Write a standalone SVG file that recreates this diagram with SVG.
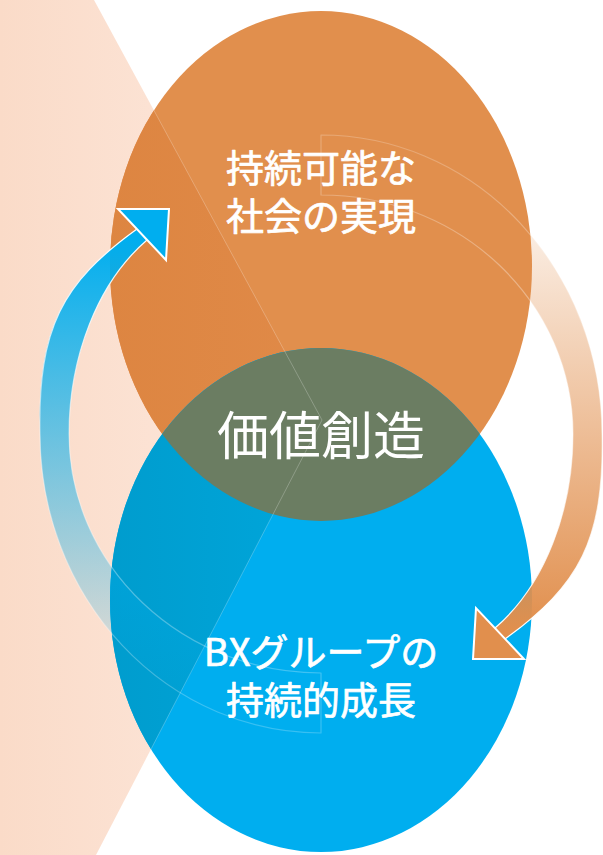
<svg xmlns="http://www.w3.org/2000/svg" width="603" height="855" viewBox="0 0 603 855">
  <style>
    .lbl { font-family: "Noto Sans CJK JP", "Noto Sans", sans-serif; fill: #ffffff; text-anchor: middle; }
    .bold { stroke: #ffffff; stroke-width: 0.7; stroke-linejoin: round; }
    .band { stroke-width: 1.2; stroke-linejoin: round; }
    .head { stroke: #ffffff; stroke-width: 2; stroke-linejoin: miter; }
  </style>
  <defs>
    <linearGradient id="peach" gradientUnits="userSpaceOnUse" x1="0" y1="0" x2="320" y2="0">
      <stop offset="0" stop-color="#FADBC8"/>
      <stop offset="1" stop-color="#FEEAE0"/>
    </linearGradient>
    <linearGradient id="darkOr" gradientUnits="userSpaceOnUse" x1="100" y1="0" x2="320" y2="0">
      <stop offset="0" stop-color="#DD8541"/>
      <stop offset="1" stop-color="#E08A48"/>
    </linearGradient>
    <linearGradient id="darkBl" gradientUnits="userSpaceOnUse" x1="100" y1="0" x2="320" y2="0">
      <stop offset="0" stop-color="#009CCD"/>
      <stop offset="1" stop-color="#00A6DB"/>
    </linearGradient>
    <linearGradient id="orBand" gradientUnits="userSpaceOnUse" x1="0" y1="155" x2="0" y2="630">
      <stop offset="0" stop-color="#E18F4D" stop-opacity="0"/>
      <stop offset="1" stop-color="#E18F4D" stop-opacity="1"/>
    </linearGradient>
    <linearGradient id="blBand" gradientUnits="userSpaceOnUse" x1="0" y1="155" x2="0" y2="630">
      <stop offset="0" stop-color="#00AEEF" stop-opacity="0"/>
      <stop offset="1" stop-color="#00AEEF" stop-opacity="1"/>
    </linearGradient>
    <linearGradient id="edge" gradientUnits="userSpaceOnUse" x1="0" y1="155" x2="0" y2="630">
      <stop offset="0" stop-color="#ffffff" stop-opacity="0.22"/>
      <stop offset="0.6" stop-color="#ffffff" stop-opacity="0.45"/>
      <stop offset="1" stop-color="#ffffff" stop-opacity="1"/>
    </linearGradient>
    <clipPath id="clipOr"><ellipse cx="321" cy="266" rx="211" ry="255"/></clipPath>
    <clipPath id="clipBl"><ellipse cx="321" cy="600" rx="211" ry="252"/></clipPath>
    <clipPath id="clipBoth">
      <ellipse cx="321" cy="266" rx="211" ry="255"/>
      <ellipse cx="321" cy="600" rx="211" ry="252"/>
    </clipPath>
    <path id="bandShape" d="M321,135 A281,299 0 0 1 602,434 C604,540 580,585 505,639 L495,628 C545,585 573,510 573,434 A252,239 0 0 0 321,195 Z"/>
    <polygon id="headShape" points="476,608 473,659 524,659"/>
  </defs>

  <g id="background">
    <rect x="0" y="0" width="603" height="855" fill="#ffffff"/>
    <polygon points="0,0 94,0 322,420 96,855 0,855" fill="url(#peach)"/>
  </g>

  <g id="node-society">
    <ellipse cx="321" cy="266" rx="211" ry="255" fill="#E18F4D"/>
    <polygon points="0,0 94,0 322,420 96,855 0,855" fill="url(#darkOr)" clip-path="url(#clipOr)"/>
  </g>

  <g id="node-growth">
    <ellipse cx="321" cy="600" rx="211" ry="252" fill="#00AEEF"/>
    <polygon points="0,0 94,0 322,420 96,855 0,855" fill="url(#darkBl)" clip-path="url(#clipBl)"/>
  </g>

  <g id="node-value">
    <ellipse cx="321" cy="600" rx="211" ry="252" fill="#6B7D62" clip-path="url(#clipOr)"/>
  </g>

  <polyline points="94,0 322,420 96,855" fill="none" stroke="#ffffff" stroke-opacity="0.3" stroke-width="0.8" clip-path="url(#clipBoth)"/>

  <g id="connectors">
    <g id="arrow-orange">
      <use href="#bandShape" class="band" fill="url(#orBand)" stroke="url(#edge)"/>
      <use href="#headShape" class="head" fill="#E18F4D"/>
    </g>
    <g id="arrow-blue" transform="rotate(180 321 434)">
      <use href="#bandShape" class="band" fill="url(#blBand)" stroke="url(#edge)"/>
      <use href="#headShape" class="head" fill="#00AEEF"/>
    </g>
  </g>

  <g id="label-society">
    <text class="lbl bold" x="321" y="182" font-size="38">持続可能な</text>
    <text class="lbl bold" x="321" y="230" font-size="38">社会の実現</text>
  </g>
  <g id="label-value">
    <text class="lbl" x="321" y="455" font-size="52">価値創造</text>
  </g>
  <g id="label-growth">
    <text class="lbl bold" x="321" y="666" font-size="38">BXグループの</text>
    <text class="lbl bold" x="321" y="714" font-size="38">持続的成長</text>
  </g>
</svg>
